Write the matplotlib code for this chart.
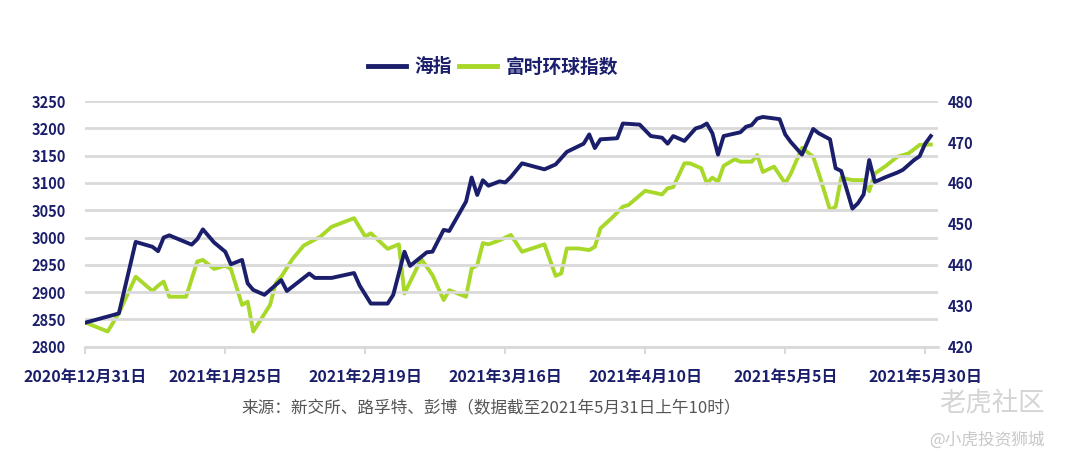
import pandas as pd
import matplotlib.pyplot as plt

plt.rcParams['font.family'] = ['Noto Sans CJK SC', 'DejaVu Sans']

# 海指 (left axis)
hai_dates = ['2020-12-31', '2021-01-05', '2021-01-06', '2021-01-09', '2021-01-12', '2021-01-13',
             '2021-01-14', '2021-01-15', '2021-01-19', '2021-01-20', '2021-01-21', '2021-01-23',
             '2021-01-25', '2021-01-26', '2021-01-28', '2021-01-29', '2021-01-30', '2021-02-01',
             '2021-02-04', '2021-02-05', '2021-02-09', '2021-02-10', '2021-02-13', '2021-02-17',
             '2021-02-18', '2021-02-20', '2021-02-23', '2021-02-24', '2021-02-26', '2021-02-27',
             '2021-03-02', '2021-03-03', '2021-03-05', '2021-03-06', '2021-03-09', '2021-03-10',
             '2021-03-11', '2021-03-12', '2021-03-13', '2021-03-15', '2021-03-16', '2021-03-17',
             '2021-03-19', '2021-03-23', '2021-03-25', '2021-03-27', '2021-03-30', '2021-03-31',
             '2021-04-01', '2021-04-02', '2021-04-05', '2021-04-06', '2021-04-09', '2021-04-11',
             '2021-04-13', '2021-04-14', '2021-04-15', '2021-04-17', '2021-04-19', '2021-04-20',
             '2021-04-21', '2021-04-22', '2021-04-23', '2021-04-24', '2021-04-27', '2021-04-28',
             '2021-04-29', '2021-04-30', '2021-05-01', '2021-05-04', '2021-05-05', '2021-05-06',
             '2021-05-08', '2021-05-10', '2021-05-11', '2021-05-13', '2021-05-14', '2021-05-15',
             '2021-05-17', '2021-05-18', '2021-05-19', '2021-05-20', '2021-05-21', '2021-05-23',
             '2021-05-25', '2021-05-26', '2021-05-28', '2021-05-29', '2021-05-30', '2021-05-31']
hai_values = [2844, 2858, 2861, 2992, 2983, 2975,
              3000, 3004, 2987, 2997, 3015, 2991,
              2974, 2951, 2959, 2916, 2904, 2895,
              2922, 2902, 2934, 2926, 2926, 2935,
              2912, 2879, 2879, 2895, 2974, 2948,
              2973, 2974, 3014, 3012, 3066, 3110,
              3078, 3105, 3095, 3103, 3101, 3111,
              3136, 3125, 3134, 3157, 3172, 3189,
              3164, 3180, 3182, 3209, 3207, 3186,
              3183, 3172, 3186, 3177, 3200, 3203,
              3209, 3191, 3152, 3186, 3193, 3203,
              3206, 3218, 3221, 3217, 3189, 3175,
              3152, 3199, 3191, 3180, 3127, 3122,
              3053, 3063, 3079, 3142, 3102, 3111,
              3119, 3124, 3142, 3149, 3172, 3186]

# 富时环球指数 (right axis)
ftse_dates = ['2020-12-31', '2021-01-04', '2021-01-06', '2021-01-09', '2021-01-12', '2021-01-13',
              '2021-01-14', '2021-01-15', '2021-01-18', '2021-01-20', '2021-01-21', '2021-01-23',
              '2021-01-25', '2021-01-26', '2021-01-28', '2021-01-29', '2021-01-30', '2021-02-02',
              '2021-02-03', '2021-02-04', '2021-02-06', '2021-02-08', '2021-02-11', '2021-02-13',
              '2021-02-17', '2021-02-19', '2021-02-20', '2021-02-23', '2021-02-25', '2021-02-26',
              '2021-03-01', '2021-03-03', '2021-03-05', '2021-03-06', '2021-03-09', '2021-03-10',
              '2021-03-11', '2021-03-12', '2021-03-13', '2021-03-15', '2021-03-17', '2021-03-19',
              '2021-03-23', '2021-03-25', '2021-03-26', '2021-03-27', '2021-03-29', '2021-03-31',
              '2021-04-01', '2021-04-02', '2021-04-04', '2021-04-06', '2021-04-07', '2021-04-10',
              '2021-04-13', '2021-04-14', '2021-04-15', '2021-04-17', '2021-04-18', '2021-04-20',
              '2021-04-21', '2021-04-22', '2021-04-23', '2021-04-24', '2021-04-26', '2021-04-27',
              '2021-04-29', '2021-04-30', '2021-05-01', '2021-05-03', '2021-05-05', '2021-05-06',
              '2021-05-08', '2021-05-10', '2021-05-11', '2021-05-13', '2021-05-14', '2021-05-15',
              '2021-05-17', '2021-05-19', '2021-05-20', '2021-05-21', '2021-05-23', '2021-05-25',
              '2021-05-27', '2021-05-29', '2021-05-31']
ftse_values = [425.9, 423.7, 428.2, 437.1, 433.6, 434.9,
               435.9, 432.2, 432.2, 440.8, 441.2, 439.0,
               439.8, 439.0, 430.2, 431.0, 423.7, 430.2,
               435.5, 437.1, 441.4, 444.7, 446.9, 449.3,
               451.4, 446.9, 447.7, 443.9, 445.0, 433.0,
               441.4, 437.5, 431.4, 433.8, 432.2, 439.1,
               439.9, 445.3, 445.0, 446.0, 447.3, 443.2,
               445.0, 437.3, 437.9, 444.0, 444.0, 443.6,
               444.4, 448.9, 451.4, 454.2, 454.6, 458.1,
               457.2, 458.7, 459.0, 464.8, 464.8, 463.6,
               459.9, 461.3, 460.3, 464.2, 465.8, 465.2,
               465.2, 466.8, 462.7, 464.0, 459.9, 462.3,
               468.6, 466.4, 462.3, 453.4, 454.2, 461.3,
               460.7, 460.7, 458.0, 462.3, 464.2, 466.4,
               467.2, 469.3, 469.4]

tick_dates = ['2020-12-31', '2021-01-25', '2021-02-19', '2021-03-16',
              '2021-04-10', '2021-05-05', '2021-05-30']
left_ticks = [2800, 2850, 2900, 2950, 3000, 3050, 3100, 3150, 3200, 3250]
right_ticks = [420, 430, 440, 450, 460, 470, 480]

navy = '#1b1f6b'
lime = '#a8d82a'
grid_col = '#d9d9d9'

fig = plt.figure(figsize=(10.66, 4.65), dpi=100)
ax = fig.add_axes([0.080, 0.2545, 0.800, 0.528])
ax2 = ax.twinx()

hd = pd.to_datetime(hai_dates)
fd = pd.to_datetime(ftse_dates)
l1, = ax.plot(hd, hai_values, color=navy, lw=2.8, solid_joinstyle='round', zorder=3)
l2, = ax2.plot(fd, ftse_values, color=lime, lw=2.8, solid_joinstyle='round', zorder=2)
ax.set_zorder(ax2.get_zorder() + 1)
ax.patch.set_visible(False)

ax.set_ylim(2800, 3250)
ax2.set_ylim(420, 480)
ax.set_xlim(pd.Timestamp('2020-12-31'), pd.Timestamp('2021-05-31') + pd.Timedelta(days=1.3))

ax.set_yticks(left_ticks)
ax2.set_yticks(right_ticks)
ax.yaxis.grid(True, color=grid_col, lw=2)
ax.set_axisbelow(True)

td = pd.to_datetime(tick_dates)
ax.set_xticks(td)
ax.set_xticklabels([f'{d.year}年{d.month}月{d.day}日' for d in td])

for a in (ax, ax2):
    for s in a.spines.values():
        s.set_visible(False)
ax.spines['bottom'].set_visible(True)
ax.spines['bottom'].set_color(grid_col)
ax.spines['bottom'].set_linewidth(2)

ax.tick_params(axis='y', length=0, pad=14, labelsize=10.5, labelcolor=navy)
ax2.tick_params(axis='y', length=0, pad=7, labelsize=10.5, labelcolor=navy)
ax.tick_params(axis='x', length=5, width=1.5, color=grid_col, pad=11, labelsize=11.5, labelcolor=navy)
for lab in ax.get_yticklabels() + ax2.get_yticklabels() + ax.get_xticklabels():
    lab.set_fontweight('bold')

fig.legend([l1, l2], ['海指', '富时环球指数'], loc='center', bbox_to_anchor=(0.4625, 0.856),
           ncol=2, frameon=False, handlelength=2.0, columnspacing=0.4, handletextpad=0.45,
           prop={'size': 13.5, 'weight': 'bold'}, labelcolor=navy)
for h in fig.legends[0].get_lines():
    h.set_linewidth(3.5)

fig.text(0.461, 0.12, '来源：新交所、路孚特、彭博（数据截至2021年5月31日上午10时）',
         ha='center', va='center', fontsize=12, color='#555555')

# watermarks
fig.text(0.98, 0.133, '老虎社区', ha='right', va='center', fontsize=19, color='#d4d4d4')
fig.text(0.98, 0.054, '@小虎投资狮城', ha='right', va='center', fontsize=12, color='#c8c8c8')

fig.savefig('out.png', dpi=100)
